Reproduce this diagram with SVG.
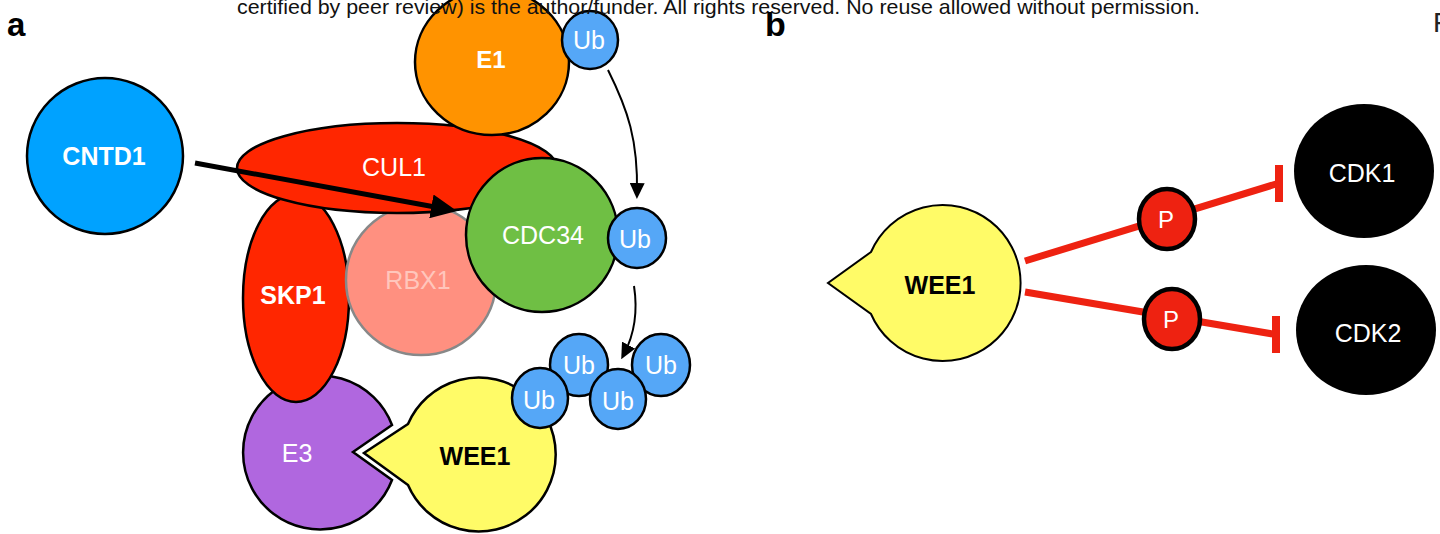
<svg xmlns="http://www.w3.org/2000/svg" width="1440" height="534" viewBox="0 0 1440 534">
<defs>
<style>
text{font-family:"Liberation Sans",Arial,Helvetica,sans-serif;}
.lbl{font-size:25px;text-anchor:middle;fill:#fff;}
.bold{font-weight:bold;}
.dark{fill:#000;}
.ol{stroke:#000;stroke-width:2.5;}
.ub{fill:#55A7F7;stroke:#000;stroke-width:2.5;}
.pc{fill:#EE2211;stroke:#000;stroke-width:4.5;}
.cdk{fill:#000;}
.red{stroke:#EE2211;stroke-width:7;fill:none;}
.arr{stroke:#000;fill:none;}
</style>
<marker id="ahBig" markerUnits="userSpaceOnUse" markerWidth="26" markerHeight="24" refX="12" refY="12" orient="auto"><path d="M0,0 L26,12 L0,24 Z" fill="#000"/></marker>
<marker id="ahSmall" markerUnits="userSpaceOnUse" markerWidth="16" markerHeight="15" refX="10" refY="7.5" orient="auto"><path d="M0,0 L16,7.5 L0,15 Z" fill="#000"/></marker>
</defs>
<rect width="1440" height="534" fill="#fff"/>
<text x="7" y="36" font-size="33" font-weight="bold" fill="#000">a</text>

<g id="CNTD1"><ellipse cx="105" cy="156" rx="78" ry="78" fill="#00A2FF" class="ol"/><text x="104" y="165" class="lbl bold">CNTD1</text></g>
<g id="E3"><path d="M392,425 L353,452 L392,480 A77,77 0 1 1 392,425 Z" fill="#B067DF" class="ol"/><text x="297" y="462" class="lbl" fill="#F6EEFF">E3</text></g>
<g id="SKP1"><ellipse cx="296" cy="298" rx="53" ry="104" fill="#FF2600" class="ol"/><text x="293" y="304" class="lbl bold">SKP1</text></g>
<g id="RBX1"><circle cx="421" cy="280" r="75" fill="#FF9080" stroke="#888" stroke-width="2.5"/><text x="418" y="289" class="lbl" style="fill:#FFC6BC">RBX1</text></g>
<g id="CUL1"><ellipse cx="397" cy="168" rx="160" ry="45" fill="#FF2600" class="ol"/><text x="394" y="176" class="lbl">CUL1</text></g>
<g id="E1"><ellipse cx="492" cy="62" rx="77" ry="73" fill="#FF9300" class="ol"/><text x="491" y="68" class="lbl bold" style="font-size:24px">E1</text></g>
<g id="Ub-E1"><ellipse cx="590" cy="40" rx="28" ry="29" class="ub"/><text x="589" y="49" class="lbl">Ub</text></g>
<g id="CDC34"><ellipse cx="542" cy="235" rx="76" ry="77" fill="#6FBF44" class="ol"/><text x="543" y="244" class="lbl">CDC34</text></g>
<g id="Ub-CDC34"><ellipse cx="637" cy="238" rx="29" ry="30" class="ub"/><text x="635" y="248" class="lbl">Ub</text></g>
<g id="WEE1-a"><path d="M408,424 L364,453 L408,485 A77,77 0 1 0 408,424 Z" fill="#FFFB67" class="ol"/><text x="475" y="465" class="lbl bold dark">WEE1</text></g>
<g id="Ub2"><ellipse cx="579" cy="365" rx="29" ry="31" class="ub"/><text x="579" y="374" class="lbl">Ub</text></g>
<g id="Ub4"><ellipse cx="661" cy="365" rx="29" ry="31" class="ub"/><text x="661" y="374" class="lbl">Ub</text></g>
<g id="Ub1"><ellipse cx="540" cy="398" rx="28" ry="30" class="ub"/><text x="539" y="409" class="lbl">Ub</text></g>
<g id="Ub3"><ellipse cx="618" cy="399" rx="28" ry="30" class="ub"/><text x="618" y="410" class="lbl">Ub</text></g>

<g id="connectors">
<line x1="195" y1="163" x2="443.2" y2="208.5" class="arr" stroke-width="5" marker-end="url(#ahBig)"/>
<path d="M608,70 C628,110 638,140 637,193" class="arr" stroke-width="2" marker-end="url(#ahSmall)"/>
<path d="M634,286 C638,312 634,335 624,354" class="arr" stroke-width="2" marker-end="url(#ahSmall)"/>
<line x1="1025" y1="261" x2="1276" y2="184" class="red"/>
<rect x="1275" y="165" width="8" height="37" fill="#EE2211"/>
<line x1="1025" y1="292" x2="1273" y2="334" class="red"/>
<rect x="1272" y="316" width="8" height="37" fill="#EE2211"/>
</g>

<g id="WEE1-b"><path d="M871,252 L828,283 L871,314 A78,78 0 1 0 871,252 Z" fill="#FFFB67" stroke="#000" stroke-width="2"/><text x="940" y="294" class="lbl bold dark">WEE1</text></g>
<g id="P1"><ellipse cx="1167" cy="219" rx="28" ry="30" class="pc"/><text x="1166" y="228" class="lbl" style="font-size:24px">P</text></g>
<g id="P2"><ellipse cx="1172" cy="319" rx="28" ry="30" class="pc"/><text x="1171" y="328" class="lbl" style="font-size:24px">P</text></g>
<g id="CDK1"><ellipse cx="1364" cy="171" rx="70" ry="67" class="cdk"/><text x="1362" y="182" class="lbl">CDK1</text></g>
<g id="CDK2"><ellipse cx="1366" cy="330" rx="70" ry="65" class="cdk"/><text x="1368" y="342" class="lbl">CDK2</text></g>

<text x="237" y="14" font-size="21" fill="#111" textLength="963" lengthAdjust="spacingAndGlyphs">certified by peer review) is the author/funder. All rights reserved. No reuse allowed without permission.</text>
<text x="765" y="36" font-size="34" font-weight="bold" fill="#000">b</text>
<text x="1433" y="32" font-size="28" fill="#222">F</text>
</svg>
